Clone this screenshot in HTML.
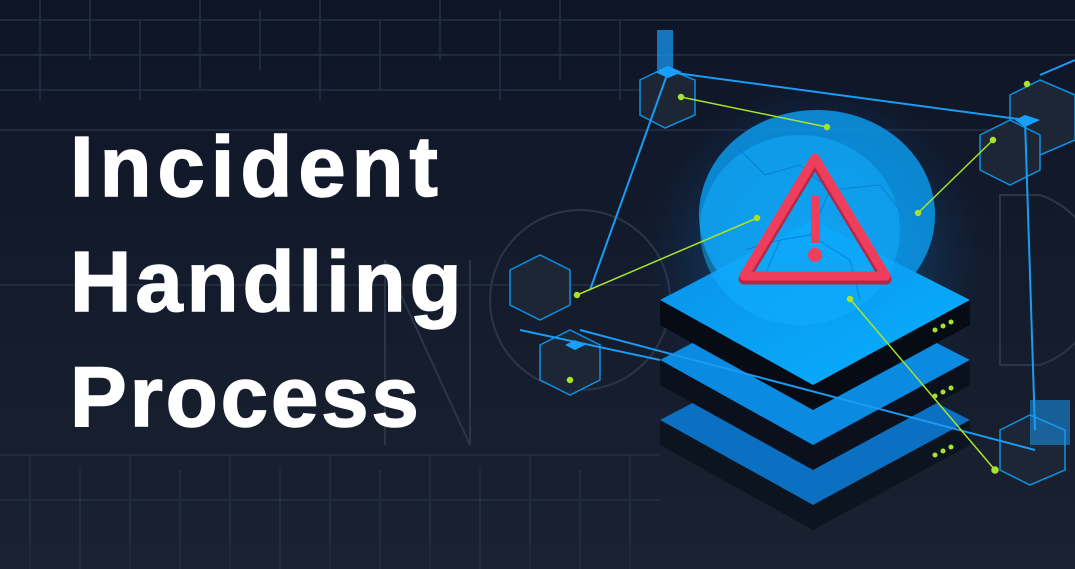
<!DOCTYPE html>
<html><head><meta charset="utf-8"><style>
html,body{margin:0;padding:0;width:1075px;height:569px;overflow:hidden;background:#141c2c}
.t{position:absolute;left:70px;color:#fff;font-family:"Liberation Sans",sans-serif;font-weight:bold;font-size:85px;line-height:1;-webkit-text-stroke:1.5px #fff}
</style></head><body>
<svg width="1075" height="569" style="position:absolute;left:0;top:0">
<defs>
<linearGradient id="bg" x1="0" y1="0" x2="0" y2="1"><stop offset="0" stop-color="#0d1526"/><stop offset="1" stop-color="#1a2232"/></linearGradient>
<radialGradient id="glow" cx="0.5" cy="0.5" r="0.5"><stop offset="0" stop-color="#1da8ff" stop-opacity="0.6"/><stop offset="1" stop-color="#0a4a9a" stop-opacity="0"/></radialGradient>
<linearGradient id="plate" x1="0" y1="0" x2="1" y2="1"><stop offset="0" stop-color="#0a8fe8"/><stop offset="1" stop-color="#08b0ff"/></linearGradient>
</defs>
<rect width="1075" height="569" fill="url(#bg)"/>
<g stroke="#243044" stroke-width="1.5" fill="none">
<path d="M0 20H1075M0 55H1075M0 90H640M0 455H660M0 500H660"/>
<path d="M0 130H1075M0 285H660"/>
<path d="M40 0V100M90 0V60M140 20V100M200 0V90M260 10V70M320 0V100M380 20V90M440 0V60M500 10V100M560 0V80M620 20V100"/>
<path d="M30 455V569M80 470V569M130 455V569M180 470V569M230 455V569M280 470V569M330 455V569M380 470V569M430 455V569M480 470V569M530 455V569M580 470V569M630 455V569"/>
</g>
<g stroke="#2a3548" stroke-width="2" fill="none">
<circle cx="580" cy="300" r="90"/>
<path d="M1000 195H1040A90 90 0 0 1 1040 365H1000Z"/>
<path d="M385 260V445M385 260L470 445V260"/>
</g>
<ellipse cx="815" cy="260" rx="170" ry="180" fill="url(#glow)"/>
<g>
<path d="M660 420L813 340L970 420L813 505Z" fill="#0b6fc2"/>
<path d="M660 420L813 505L970 420V445L813 530L660 445Z" fill="#0c1420"/>
<path d="M660 360L813 280L970 360L813 445Z" fill="#0a8ae0"/>
<path d="M660 360L813 445L970 360V385L813 470L660 385Z" fill="#0a111c"/>
<path d="M660 300L813 220L970 300L813 385Z" fill="url(#plate)"/>
<path d="M660 300L813 385L970 300V325L813 410L660 325Z" fill="#060b14"/>
<g fill="#a8e32b"><circle cx="935" cy="330" r="2.5"/><circle cx="943" cy="326" r="2.5"/><circle cx="951" cy="322" r="2.5"/>
<circle cx="935" cy="396" r="2.5"/><circle cx="943" cy="392" r="2.5"/><circle cx="951" cy="388" r="2.5"/>
<circle cx="935" cy="455" r="2.5"/><circle cx="943" cy="451" r="2.5"/><circle cx="951" cy="447" r="2.5"/></g>
</g>
<ellipse cx="817" cy="215" rx="118" ry="105" fill="#0aa0f5" opacity="0.8"/>
<ellipse cx="800" cy="230" rx="100" ry="95" fill="#12b0ff" opacity="0.5"/>
<g stroke="#0a70c0" stroke-width="1" fill="none" opacity="0.7">
<path d="M740 150L765 175L800 165L830 190L810 235L780 240L765 275M830 190L880 185L900 210M810 235L850 260L860 300M780 240L745 250"/>
</g>
<path d="M815 158L744 276H886Z" fill="none" stroke="#b02a48" stroke-width="11" stroke-linejoin="round" transform="translate(0,3)"/>
<path d="M815 158L744 276H886Z" fill="none" stroke="#ef3e5c" stroke-width="9" stroke-linejoin="round"/>
<rect x="811" y="196" width="9" height="47" fill="#ef3e5c"/>
<circle cx="815" cy="255" r="7" fill="#ef3e5c"/>
<g fill="#1c2634" stroke="#0f8fe0" stroke-width="1.5">
<path d="M640 80L665 68L695 80V115L665 128L640 115Z"/>
<path d="M1010 95L1040 80L1075 95V140L1040 155L1010 140Z"/>
<path d="M980 135L1010 120L1040 135V170L1010 185L980 170Z"/>
<path d="M510 270L540 255L570 270V305L540 320L510 305Z"/>
<path d="M540 345L570 330L600 345V380L570 395L540 380Z"/>
<path d="M1000 430L1030 415L1065 430V470L1030 485L1000 470Z"/>
</g>
<g fill="#18a0ff"><rect x="657" y="30" width="16" height="40" opacity="0.7"/><path d="M655 72L668 66L682 72L668 78Z"/>
<path d="M1015 120L1025 115L1040 120L1025 127Z"/><path d="M565 345L575 340L585 345L575 350Z"/>
<rect x="1030" y="400" width="40" height="45" opacity="0.5"/></g>
<g stroke="#1a9cf5" stroke-width="2" fill="none">
<path d="M668 72L1025 120L1035 430"/><path d="M668 72L590 290"/><path d="M580 330L1035 450"/>
<path d="M520 330L660 360"/><path d="M1040 75L1075 60"/>
</g>
<g stroke="#a8e32b" stroke-width="1.5" fill="#a8e32b">
<line x1="681" y1="97" x2="827" y2="127"/><circle cx="681" cy="97" r="2.5"/><circle cx="827" cy="127" r="2.5"/>
<line x1="577" y1="295" x2="757" y2="218"/><circle cx="577" cy="295" r="2.5"/><circle cx="757" cy="218" r="2.5"/>
<line x1="918" y1="213" x2="993" y2="140"/><circle cx="918" cy="213" r="2.5"/><circle cx="993" cy="140" r="2.5"/>
<line x1="850" y1="299" x2="995" y2="470"/><circle cx="850" cy="299" r="2.5"/><circle cx="995" cy="470" r="3"/>
<circle cx="1027" cy="84" r="2.5"/><circle cx="570" cy="380" r="2.5"/>
</g>
</svg>
<div class="t" style="top:125px;letter-spacing:6px">Incident</div>
<div class="t" style="top:240px;letter-spacing:4px">Handling</div>
<div class="t" style="top:355px;letter-spacing:3px">Process</div>
</body></html>
